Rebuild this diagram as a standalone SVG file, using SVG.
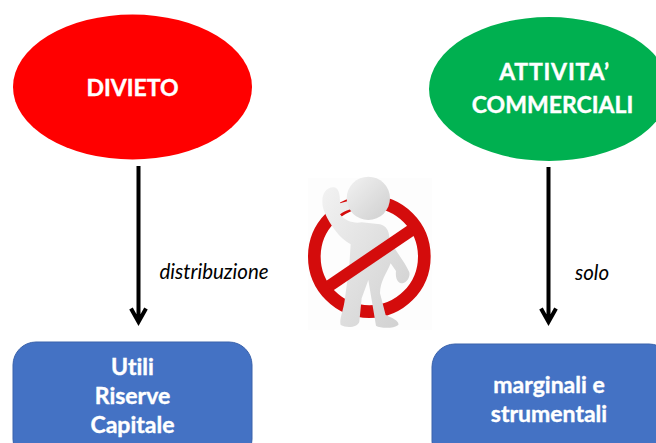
<svg xmlns="http://www.w3.org/2000/svg" width="656" height="443" viewBox="0 0 656 443">
<style>
.t{font-family:"Lato","Open Sans","Liberation Sans",sans-serif;font-weight:700;font-size:23px;fill:#fff;stroke:#fff;stroke-width:.4;text-anchor:middle;font-variant-ligatures:none}
.i{font-family:"Lato","Open Sans","Liberation Sans",sans-serif;font-style:italic;font-size:20.500px;fill:#000;text-anchor:middle;font-variant-ligatures:none}
.c{fill:none;stroke:#000;stroke-width:4}
.b{fill:#4472c4;stroke:#3a62ab;stroke-width:1}
</style>
<defs>
<linearGradient id="g" x1="0" y1="0" x2="1" y2="1"><stop offset="0" stop-color="#f2f2f2"/><stop offset="1" stop-color="#cfcfcf"/></linearGradient>
</defs>
<rect width="656" height="443" fill="#fff"/>
<g id="connectors">
<path class="c" d="M138.500 166V322M131 308.500L138.500 322L146 308.500"/>
<path class="c" d="M548.500 167V322M541 308.500L548.500 322L556 308.500"/>
</g>
<g id="node-divieto">
<ellipse cx="132.500" cy="87" rx="119.500" ry="72.500" fill="#f00"/>
<text class="t" x="132.500" y="96">DIVIETO</text>
</g>
<g id="node-attivita">
<ellipse cx="549" cy="89" rx="120" ry="72" fill="#00b050"/>
<text class="t" x="554.500" y="80" letter-spacing=".8">ATTIVITA’</text>
<text class="t" x="552.500" y="113">COMMERCIALI</text>
</g>
<g id="node-utili">
<rect class="b" x="13" y="342" width="239" height="120" rx="23"/>
<text class="t" x="132.500" y="375">Utili</text>
<text class="t" x="132.500" y="404">Riserve</text>
<text class="t" x="132.500" y="433">Capitale</text>
</g>
<g id="node-marginali">
<rect class="b" x="432" y="344" width="240" height="120" rx="23"/>
<text class="t" x="549" y="393">marginali e</text>
<text class="t" x="549" y="422">strumentali</text>
</g>
<g id="label-distribuzione"><text class="i" x="214" y="279">distribuzione</text></g>
<g id="label-solo"><text class="i" x="592" y="280">solo</text></g>
<g id="stop-figure">
<rect x="308" y="178" width="124" height="152" fill="#fdfdfd"/>
<g transform="translate(290 165) scale(.3333)">
<circle cx="238" cy="275" r="165" fill="none" stroke="#d40c0c" stroke-width="38"/>
<path fill="url(#g)" d="M97 110C97 85 108 68 130 67C146 68 150 85 150 115L172 109C190 106 202 112 198 124C188 134 168 134 150 148C165 168 190 176 215 172L270 178C288 182 298 198 298 218C312 255 345 290 358 322C362 340 345 356 333 355C320 350 316 335 318 318L302 295C290 325 270 350 270 385L287 450C310 460 328 468 325 480C310 492 270 490 258 482L235 345L215 400L208 470C203 488 170 490 152 480C147 462 160 440 165 400L178 300L182 238C150 222 120 180 105 145C99 130 97 120 97 110Z"/>
<circle cx="235" cy="100" r="65" fill="url(#g)"/>
<path d="M115 365L365 195" stroke="#d40c0c" stroke-width="36" fill="none"/>
</g>
</g>
</svg>
